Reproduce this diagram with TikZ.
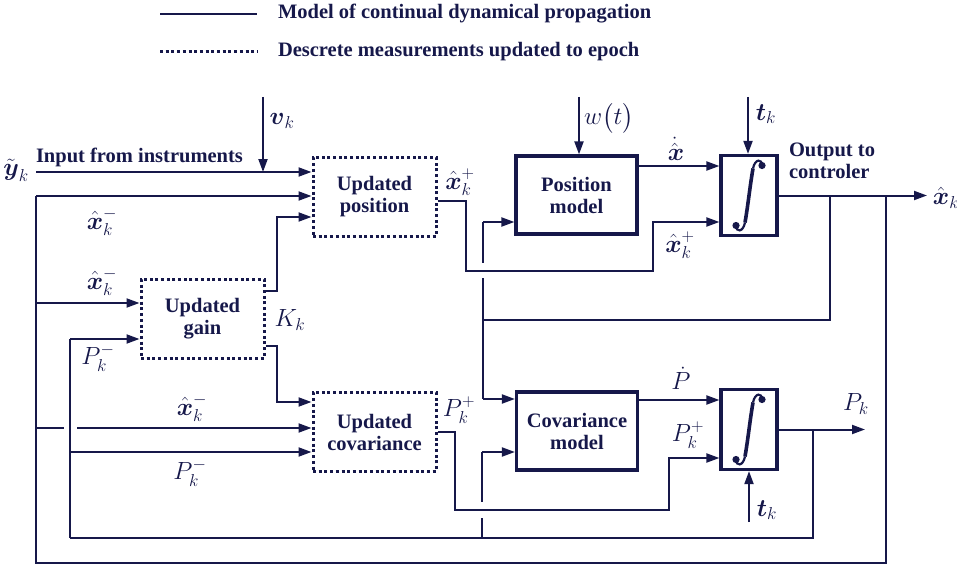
\documentclass[tikz,border=0pt]{standalone}
\usepackage{amsmath}
\usepackage{fontspec}
\setmainfont{Liberation Serif}
\usetikzlibrary{arrows.meta}
\definecolor{navyline}{RGB}{22,24,74}

\begin{document}
\begin{tikzpicture}[x=1pt,y=-1pt,
    line width=2pt, navyline,
    every node/.style={text=navyline, font=\fontsize{20.5}{22}\selectfont\bfseries},
    arr/.style={-{Triangle[length=13pt,width=9pt]}},
    dotline/.style={line width=3pt, dash pattern=on 3pt off 2.7pt},
    dotbox/.style={draw, dotline, minimum width=123pt, minimum height=79pt, align=center},
    modbox/.style={draw, line width=3.2pt, minimum width=121pt, minimum height=78pt, align=center},
    intbox/.style={draw, line width=3.2pt, minimum width=56pt, minimum height=80pt, inner sep=0pt},
    lbl/.style={inner sep=1pt, font=\fontsize{24}{26}\selectfont},
    intsign/.pic={
        \draw[line width=2.2pt] (13,-30) .. controls (13,-37) and (6,-37) .. (4,-27);
        \draw[line width=3.6pt] (4,-27) .. controls (1,-10) and (-1,10) .. (-4,27);
        \draw[line width=2.2pt] (-4,27) .. controls (-6,37) and (-13,37) .. (-13,30);
        \fill (13,-30) circle (3.6);
        \fill (-13,30) circle (3.6);
    }]
        \useasboundingbox (0,0) rectangle (957,567);

        % Legend
        \coordinate (lgA) at (160,14);
        \coordinate (lgB) at (160,52);
        \draw (lgA) -- ++(97,0);
        \draw[dotline] (lgB) -- ++(97,0);
        \node[anchor=west, inner sep=1pt] (lgtxt1) at (276,14) {Model of continual dynamical propagation};
        \node[anchor=west, inner sep=1pt] (lgtxt2) at (276,52) {Descrete measurements updated to epoch};

        % Blocks
        \node[dotbox] (updpos) at (374.5,197) {Updated\\position};
        \node[dotbox] (gain) at (202.5,318.5) {Updated\\gain};
        \node[dotbox] (updcov) at (374.5,432) {Updated\\covariance};
        \node[modbox] (posmod) at (576.5,195) {Position\\model};
        \node[modbox] (covmod) at (577,431) {Covariance\\model};
        \node[intbox] (intx) at (749,195.5) {};
        \node[intbox] (intp) at (749,429.5) {};
        \pic at (intx.center) {intsign};
        \pic at (intp.center) {intsign};

        % Measurement input
        \coordinate (yin) at (36,172);
        \node[lbl] (ylab) at (16,170) {$\tilde{\boldsymbol{y}}_k$};
        \node[anchor=west, inner sep=1pt] (inlab) at (34,157) {Input from instruments};
        \draw[arr] (yin) -- (yin -| updpos.west);
        \coordinate (vtop) at (263,97);
        \draw[arr] (vtop) -- (vtop |- yin);
        \node[lbl] (vlab) at (282,121) {$\boldsymbol{v}_k$};

        % Left bus from the output
        \coordinate (busT) at (36,196);
        \coordinate (busB) at (36,563);
        \draw[arr] (busT) -- (busT -| updpos.west);
        \node[lbl] (xm1) at (102,222) {$\hat{\boldsymbol{x}}_k^-$};
        \coordinate (xg) at (36,303);
        \draw[arr] (xg) -- (xg -| gain.west);
        \node[lbl] (xm2) at (102,282) {$\hat{\boldsymbol{x}}_k^-$};
        \coordinate (xc) at (36,428);
        \coordinate (xc2) at (77,428);
        \draw (xc) -- (64,428);
        \draw[arr] (xc2) -- (xc2 -| updcov.west);
        \node[lbl] (xm3) at (192,408) {$\hat{\boldsymbol{x}}_k^-$};

        % Covariance bus
        \coordinate (pT) at (70,339);
        \coordinate (pB) at (70,538);
        \coordinate (pc) at (70,452);
        \draw[arr] (pT) -- (pT -| gain.west);
        \draw (pT) -- (pB);
        \draw[arr] (pc) -- (pc -| updcov.west);
        \node[lbl] (pm1) at (98,358) {$P_k^-$};
        \node[lbl] (pm2) at (190,473) {$P_k^-$};

        % Gain outputs
        \coordinate (kup) at (277,217);
        \coordinate (kdn) at (277,402);
        \draw[arr] ([yshift=27.5pt]gain.east) -| (kup) -- (kup -| updpos.west);
        \draw[arr] ([yshift=-27pt]gain.east) -| (kdn) -- (kdn -| updcov.west);
        \node[lbl] (klab) at (290,320) {$K_k$};

        % Updated position to integrator
        \coordinate (s1) at (466,271);
        \coordinate (s2) at (653,222);
        \draw[arr] ([yshift=-4pt]updpos.east) -| (s1) -| (s2) -- (s2 -| intx.west);
        \node[lbl] (xp1) at (460,182) {$\hat{\boldsymbol{x}}_k^+$};
        \node[lbl] (xp2) at (680,245) {$\hat{\boldsymbol{x}}_k^+$};

        % Position model
        \coordinate (wt) at (579,97);
        \draw[arr] (wt) -- (wt |- posmod.north);
        \node[lbl] (wlab) at (609,118) {$w\bigl(t\bigr)$};
        \coordinate (pmo) at ([yshift=29pt]posmod.east);
        \draw[arr] (pmo) -- (pmo -| intx.west);
        \node[lbl] (xdot) at (676,149) {$\dot{\hat{\boldsymbol{x}}}$};
        \coordinate (tk1) at (748,97);
        \draw[arr] (tk1) -- (tk1 |- intx.north);
        \node[lbl] (tk1lab) at (766,114) {$\boldsymbol{t}_k$};

        % Output
        \coordinate (xout) at (927,195.5);
        \draw[arr] (intx.east) -- (xout);
        \node[lbl] (xolab) at (946,198) {$\hat{\boldsymbol{x}}_k$};
        \node[anchor=west, align=left, inner sep=1pt] (outlab) at (787,161) {Output to\\controler};
        \coordinate (fb) at (830,195.5);
        \coordinate (bx) at (886,195.5);
        \coordinate (f1) at (483,222);
        \coordinate (f2) at (483,320);
        \coordinate (f3) at (483,399);
        \draw (fb) |- (f2);
        \draw (bx) |- (busB) -- (busT);
        \draw (f1) -- (483,263);
        \draw (483,278) -- (f3);
        \draw[arr] (f1) -- (f1 -| posmod.west);
        \draw[arr] (f3) -- (f3 -| covmod.west);

        % Covariance propagation
        \coordinate (g1) at (482,452);
        \draw[arr] (g1) -- (g1 -| covmod.west);
        \draw (g1) -- (482,502);
        \draw (482,518) -- (482,538);
        \coordinate (cmo) at ([yshift=31pt]covmod.east);
        \draw[arr] (cmo) -- (cmo -| intp.west);
        \node[lbl] (pdot) at (681,378) {$\dot{P}$};
        \coordinate (s3) at (455,510);
        \coordinate (s4) at (669,458);
        \draw[arr] (updcov.east) -| (s3) -| (s4) -- (s4 -| intp.west);
        \node[lbl] (pp1) at (459,410) {$P_k^+$};
        \node[lbl] (pp2) at (688,435) {$P_k^+$};
        \coordinate (tk2) at (749,522);
        \draw[arr] (tk2) -- (tk2 |- intp.south);
        \node[lbl] (tk2lab) at (767,510) {$\boldsymbol{t}_k$};
        \coordinate (pout) at (865,429.5);
        \draw[arr] (intp.east) -- (pout);
        \node[lbl] (pklab) at (856,404) {$P_k$};
        \coordinate (pb) at (813,429.5);
        \draw (pb) |- (pB);
    \end{tikzpicture}
\end{document}
